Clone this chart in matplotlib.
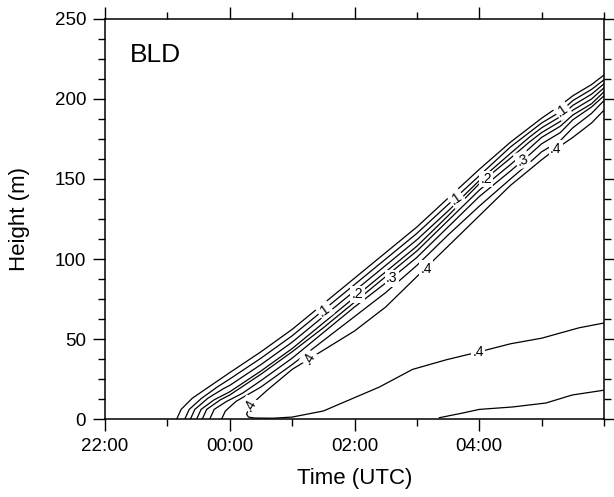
import numpy as np
import matplotlib
matplotlib.use("Agg")
import matplotlib.pyplot as plt
from matplotlib.ticker import MultipleLocator

plt.rcParams['font.family'] = ['Liberation Sans', 'DejaVu Sans']

# ---------- contour lines: (hours after 00 UTC, height m) ----------
c05 = [(-0.85, 0), (-0.78, 6), (-0.6, 13), (-0.3, 21), (0, 29), (0.5, 42), (1, 56), (1.5, 72),
       (2, 88), (2.5, 104), (3, 120), (3.5, 138), (4, 156), (4.5, 173), (4.8, 182), (5, 188),
       (5.3, 196), (5.5, 202), (5.8, 209), (6, 215)]
c10 = [(-0.72, 0), (-0.65, 6), (-0.45, 13), (-0.2, 20), (0, 25), (0.5, 38), (1, 52), (1.5, 68),
       (2, 84), (2.5, 100), (3, 116), (3.5, 134), (4, 152), (4.5, 170), (4.8, 179), (5, 185),
       (5.3, 192), (5.5, 199), (5.8, 206), (6, 212)]
c15 = [(-0.63, 0), (-0.56, 6), (-0.35, 13), (-0.1, 19), (0, 21), (0.5, 34), (1, 48), (1.5, 64),
       (2, 80), (2.5, 96), (3, 112), (3.5, 130), (4, 149), (4.5, 166), (4.8, 176), (5, 182),
       (5.3, 189), (5.5, 196), (5.8, 203), (6, 209.5)]
c20 = [(-0.53, 0), (-0.46, 6), (-0.25, 12), (0, 17), (0.5, 30), (1, 44), (1.5, 60), (2, 76),
       (2.5, 92), (3, 108), (3.5, 127), (4, 147), (4.5, 163), (4.8, 173), (5, 179), (5.3, 186),
       (5.5, 193), (5.8, 200), (6, 207)]
c25 = [(-0.44, 0), (-0.37, 6), (-0.15, 12), (0, 15), (0.5, 28), (1, 42), (1.5, 57), (2, 73),
       (2.5, 89), (3, 105), (3.5, 124), (4, 143), (4.5, 159), (4.8, 169), (5, 176), (5.3, 183),
       (5.5, 190), (5.8, 197), (6, 204.5)]
c30 = [(-0.32, 0), (-0.25, 6), (-0.05, 11), (0.2, 16), (0.5, 24), (1, 38), (1.5, 54), (2, 70),
       (2.5, 85), (3, 101), (3.5, 120), (4, 139), (4.5, 155), (4.8, 165), (5, 172), (5.3, 179),
       (5.5, 187), (5.8, 195), (6, 202)]
c35 = [(-0.13, 0), (-0.07, 5), (0.1, 11), (0.5, 20), (1, 34), (1.5, 49), (2, 64), (2.5, 79),
       (3, 96), (3.5, 115), (4, 133), (4.5, 150), (4.8, 160), (5, 167), (5.3, 174), (5.5, 182),
       (5.8, 191), (6, 199)]
c40 = [(6, 193), (5.8, 185), (5.5, 176), (5.2, 168), (5, 162), (4.5, 146), (4, 127), (3.5, 108),
       (3, 89), (2.5, 70), (2, 55), (1.5, 43), (1, 31), (0.6, 18), (0.4, 11), (0.3, 6),
       (0.27, 3), (0.3, 1.2), (0.4, 0.6), (0.7, 0.5), (1, 1.2), (1.5, 5), (1.92, 12),
       (2.4, 20), (2.93, 31), (3.47, 37), (4, 42), (4.5, 47), (5, 50.5), (5.6, 57), (6, 60)]
c_low = [(3.36, 0.8), (3.73, 3.7), (4, 6), (4.53, 7.5), (5.07, 10), (5.49, 15), (6, 18)]

contours = [c05, c10, c15, c20, c25, c30, c35, c40, c_low]

# contour labels: (text, t, z, rotation)
labels = [(".1", 1.52, 68, 35), (".2", 2.05, 78, 0), (".3", 2.6, 88, 0), (".4", 3.15, 94, 0),
          (".1", 3.63, 138, 35), (".2", 4.11, 150, 0), (".3", 4.69, 162, 20), (".4", 5.23, 169, 0),
          (".1", 5.33, 193, 35), (".4", 1.28, 38, 60), (".4", 0.33, 9, 60), (".4", 3.98, 42, 0)]

xticks = [-2, 0, 2, 4]
xticklabels = ["22:00", "00:00", "02:00", "04:00"]

# ---------- Plot ----------
fig = plt.figure(figsize=(6.14, 4.97), dpi=100)
ax = fig.add_axes([105/614, 78/497, 499/614, 400/497])

for c in contours:
    c = np.array(c)
    ax.plot(c[:, 0], c[:, 1], color='black', lw=0.9)

for txt, t, z, rot in labels:
    ax.text(t, z, txt, fontsize=10, ha='center', va='center', rotation=rot,
            bbox=dict(boxstyle='square,pad=0.1', fc='white', ec='none'))

ax.set_xlim(-2, 6)
ax.set_ylim(0, 250)
ax.set_xticks(xticks)
ax.set_xticklabels(xticklabels)
ax.xaxis.set_minor_locator(MultipleLocator(1))
ax.yaxis.set_major_locator(MultipleLocator(50))
ax.yaxis.set_minor_locator(MultipleLocator(12.5))

ax.tick_params(which='both', direction='out', top=True, right=True, width=1.0,
               labelsize=13.5, pad=5)
ax.tick_params(which='major', length=8.6)
ax.tick_params(which='minor', length=4.7)
for s in ax.spines.values():
    s.set_linewidth(1.1)

ax.set_xlabel("Time (UTC)", fontsize=16)
ax.set_ylabel("Height (m)", fontsize=16)
ax.xaxis.set_label_coords(0.5, -0.1225)
ax.yaxis.set_label_coords(-0.150, 0.5)

ax.text(0.05, 0.94, "BLD", transform=ax.transAxes, fontsize=19, ha='left', va='top')

fig.savefig("out.png", dpi=100)
